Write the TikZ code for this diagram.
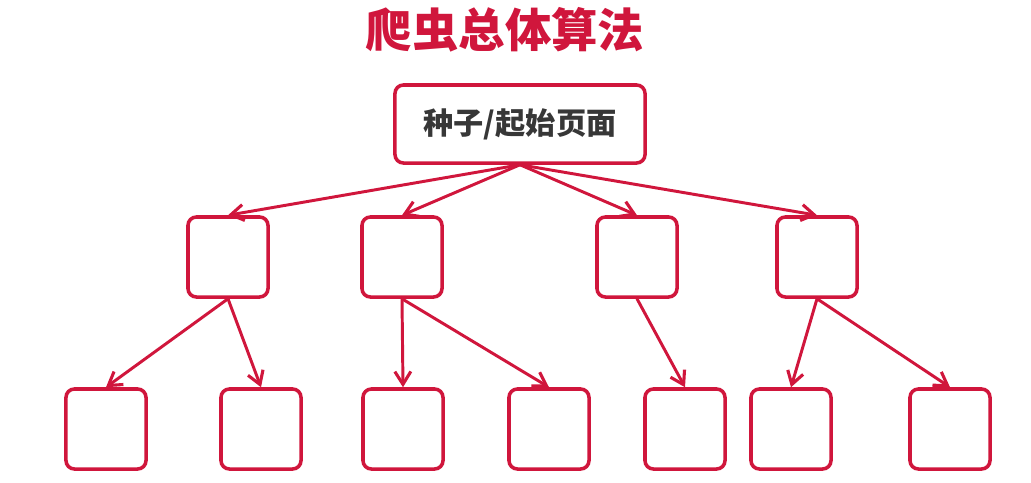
\documentclass[tikz,border=0pt]{standalone}
\usepackage{fontspec}
\newfontfamily\cjk{Noto Sans CJK SC}
\usetikzlibrary{arrows.meta,shadows}
\usepackage{xcolor}
\definecolor{crawlred}{RGB}{208,22,60}
\definecolor{txtgray}{RGB}{55,55,55}

\begin{document}
\begin{tikzpicture}[
    x=0.025cm, y=-0.025cm,
    page/.style={rectangle, rounded corners=6pt, draw=crawlred, fill=white,
                 minimum width=2cm, minimum height=2cm, line width=2.5pt,
                 drop shadow={opacity=0.25, shadow xshift=0.8pt, shadow yshift=-0.8pt}},
    seed/.style={page, minimum width=6.25cm, minimum height=1.95cm,
                 font=\cjk\bfseries\fontsize{21.5}{24}\selectfont, text=txtgray},
    arr/.style={-{Straight Barb[length=3.2mm, width=4mm, line width=2.2pt]},
                line width=2.1pt, draw=crawlred},
    ttl/.style={font=\cjk\bfseries\fontsize{33}{38}\selectfont, text=crawlred}
]
\useasboundingbox (0,0) rectangle (1031,482);

% Title
\node[ttl] (title) at (505,30) {爬虫总体算法};

% Seed page
\node[seed] (root) at (520,124) {种子/起始页面};

% First level pages
\node[page] (a) at (228,257) {};
\node[page] (b) at (402,257) {};
\node[page] (c) at (637,257) {};
\node[page] (d) at (817,257) {};

% Second level pages
\node[page] (a1) at (106,429) {};
\node[page] (a2) at (261,429) {};
\node[page] (b1) at (403,429) {};
\node[page] (b2) at (549,429) {};
\node[page] (c1) at (685,429) {};
\node[page] (d1) at (791,429) {};
\node[page] (d2) at (950,429) {};

\draw[arr] (root.south) -- (a.north);
\draw[arr] (root.south) -- (b.north);
\draw[arr] (root.south) -- (c.north);
\draw[arr] (root.south) -- (d.north);
\draw[arr] (a.south) -- (a1.north);
\draw[arr] (a.south) -- (a2.north);
\draw[arr] (b.south) -- (b1.north);
\draw[arr] (b.south) -- (b2.north);
\draw[arr] (c.south) -- (c1.north);
\draw[arr] (d.south) -- (d1.north);
\draw[arr] (d.south) -- (d2.north);

\end{tikzpicture}
\end{document}
